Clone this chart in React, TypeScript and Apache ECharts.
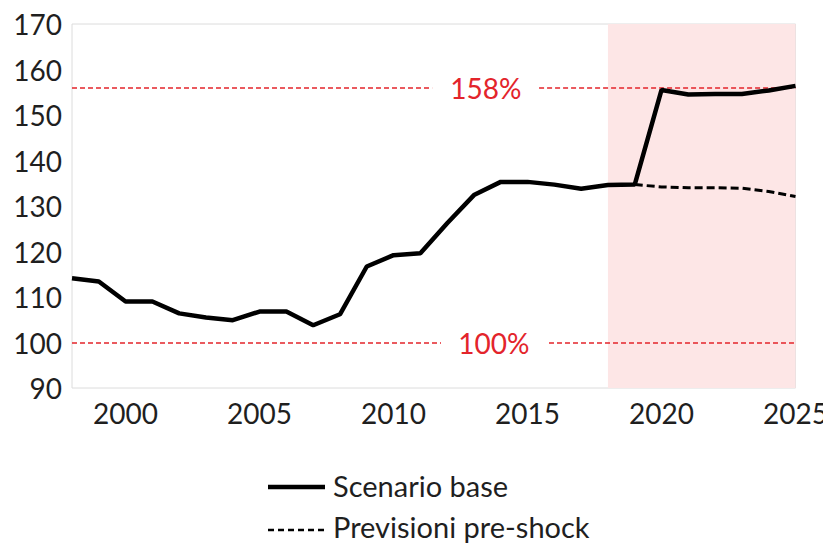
import React, { useEffect, useRef } from "react";
import * as echarts from "echarts";

const years = [
  1998, 1999, 2000, 2001, 2002, 2003, 2004, 2005, 2006, 2007, 2008, 2009, 2010, 2011,
  2012, 2013, 2014, 2015, 2016, 2017, 2018, 2019, 2020, 2021, 2022, 2023, 2024, 2025,
];
const scenarioBase = [
  114.1, 113.4, 109.0, 109.0, 106.4, 105.5, 104.9, 106.8, 106.8, 103.8, 106.2, 116.7, 119.2, 119.6,
  126.2, 132.4, 135.3, 135.3, 134.7, 133.8, 134.6, 134.7, 155.5, 154.5, 154.6, 154.6, 155.4, 156.4,
];
const preShockYears = [2019, 2020, 2021, 2022, 2023, 2024, 2025];
const preShock = [134.7, 134.2, 134.0, 134.0, 133.9, 133.2, 132.1];
const xTickLabels = [2000, 2005, 2010, 2015, 2020, 2025];
const shadeRange = [2018, 2025];
const refLevels = [156, 100];
const refLabels = ["158%", "100%"];
const seriesNames = ["Scenario base", "Previsioni pre-shock"];
// label centre year and gap around label (in x-axis units)
const refLabelX = [2013.44, 2013.74];
const refGaps = [
  [2011.44, 2015.43],
  [2011.77, 2015.8],
];

const RED = "#e3242b";
const FONT = "Lato";
const TXT = "#1f1f1f";

export default function App() {
  const ref = useRef<HTMLDivElement>(null);
  useEffect(() => {
    if (!ref.current) return;
    const chart = echarts.init(ref.current, undefined, { renderer: "svg" });
    const markLines: any[] = [];
    refLevels.forEach((v, i) => {
      markLines.push([{ coord: [years[0], v] }, { coord: [refGaps[i][0], v] }]);
      markLines.push([{ coord: [refGaps[i][1], v] }, { coord: [years[years.length - 1], v] }]);
    });
    const markPts = refLevels.map((v, i) => ({
      coord: [refLabelX[i], v],
      value: refLabels[i],
    }));
    chart.setOption({
      animation: false,
      backgroundColor: "#ffffff",
      textStyle: { fontFamily: FONT },
      grid: {
        left: 72,
        right: 34,
        top: 24,
        bottom: 164,
        show: true,
        borderColor: "#dcdcdc",
        borderWidth: 1,
        backgroundColor: "transparent",
      },
      xAxis: {
        type: "value",
        min: 1998,
        max: 2025,
        axisLine: { show: false },
        axisTick: { show: false },
        splitLine: { show: false },
        axisLabel: {
          customValues: xTickLabels,
          fontSize: 28,
          color: TXT,
          fontFamily: FONT,
          margin: 11,
          formatter: (v: number) => String(v),
        },
      },
      yAxis: {
        type: "value",
        min: 90,
        max: 170,
        interval: 10,
        axisLine: { show: false },
        axisTick: { show: false },
        splitLine: { show: false },
        axisLabel: { fontSize: 28, color: TXT, fontFamily: FONT, margin: 10 },
      },
      graphic: [
        {
          type: "line",
          shape: { x1: 268, y1: 487, x2: 325, y2: 487 },
          style: { stroke: "#000", lineWidth: 4.5 },
        },
        {
          type: "text",
          x: 333,
          y: 485,
          style: {
            text: seriesNames[0],
            fontSize: 29,
            fontFamily: FONT,
            fill: TXT,
            verticalAlign: "middle",
          },
        },
        {
          type: "line",
          shape: { x1: 268, y1: 530, x2: 325, y2: 530 },
          style: { stroke: "#000", lineWidth: 2.5, lineDash: [6, 4] },
        },
        {
          type: "text",
          x: 333,
          y: 526,
          style: {
            text: seriesNames[1],
            fontSize: 29,
            fontFamily: FONT,
            fill: TXT,
            verticalAlign: "middle",
          },
        },
      ],
      series: [
        {
          name: seriesNames[0],
          type: "line",
          data: years.map((y, i) => [y, scenarioBase[i]]),
          showSymbol: false,
          symbol: "none",
          lineStyle: { color: "#000000", width: 4.5 },
          itemStyle: { color: "#000000" },
          z: 5,
          markArea: {
            silent: true,
            itemStyle: { color: "#fde6e6" },
            data: [[{ xAxis: shadeRange[0] }, { xAxis: shadeRange[1] }]],
          },
          markLine: {
            silent: true,
            symbol: "none",
            label: { show: false },
            lineStyle: { color: RED, type: [5, 3], width: 1.6 },
            data: markLines,
            z: 1,
          },
          markPoint: {
            silent: true,
            symbol: "circle",
            symbolSize: 0,
            label: {
              show: true,
              position: "inside",
              color: RED,
              fontSize: 28,
              fontFamily: FONT,
              formatter: (p: any) => p.value,
            },
            data: markPts,
          },
        },
        {
          name: seriesNames[1],
          type: "line",
          data: preShockYears.map((y, i) => [y, preShock[i]]),
          showSymbol: false,
          symbol: "none",
          lineStyle: { color: "#000000", width: 3, type: [8, 4] },
          itemStyle: { color: "#000000" },
          z: 4,
        },
      ],
    });
    return () => chart.dispose();
  }, []);
  return <div ref={ref} style={{ width: 831, height: 552, margin: -8 }} />;
}
